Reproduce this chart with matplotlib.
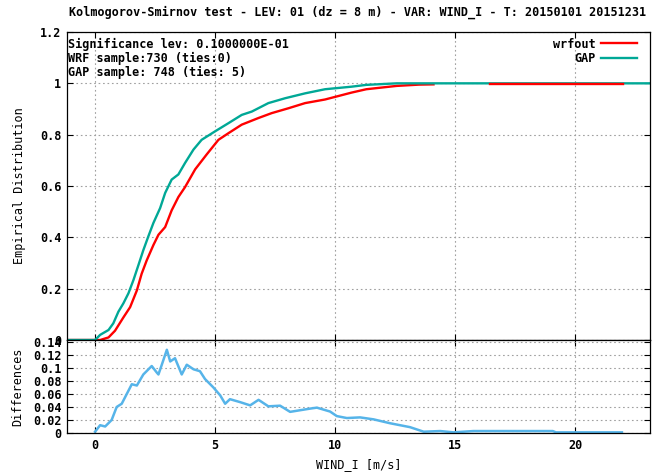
import matplotlib.pyplot as plt
import matplotlib.ticker as ticker

# ---- data ----
gap_x = [-1.2, 0.0, 0.21, 0.56, 0.76, 0.97, 1.18, 1.39, 1.6, 1.81, 2.01, 2.22, 2.43,
         2.71, 2.92, 3.19, 3.47, 3.75, 4.10, 4.44, 5.0, 5.56, 6.11, 6.53, 7.22, 7.92,
         8.75, 9.58, 10.69, 11.3, 12.57, 16.4, 23.1]
gap_y = [0.0, 0.0, 0.02, 0.039, 0.065, 0.11, 0.143, 0.182, 0.234, 0.293, 0.35, 0.404,
         0.456, 0.514, 0.573, 0.625, 0.645, 0.69, 0.742, 0.78, 0.813, 0.845, 0.877,
         0.89, 0.923, 0.942, 0.961, 0.977, 0.987, 0.994, 1.0, 1.0, 1.0]

wrf_x = [-1.2, 0.21, 0.56, 0.83, 1.18, 1.46, 1.74, 1.94, 2.15, 2.43, 2.64, 2.92, 3.19,
         3.47, 3.75, 4.17, 4.65, 5.14, 5.56, 6.11, 6.81, 7.36, 8.06, 8.75, 9.58, 10.69,
         11.3, 12.57, 13.5, 14.1]
wrf_y = [0.0, 0.0, 0.01, 0.036, 0.088, 0.128, 0.193, 0.258, 0.31, 0.37, 0.41, 0.44,
         0.505, 0.557, 0.596, 0.665, 0.723, 0.78, 0.806, 0.839, 0.865, 0.884, 0.903,
         0.923, 0.937, 0.964, 0.977, 0.99, 0.995, 0.996]
wrf_tail_x = [16.46, 22.0]
wrf_tail_y = [0.996, 0.996]

diff_x = [0.0, 0.21, 0.42, 0.69, 0.9, 1.11, 1.25, 1.39, 1.53, 1.74, 2.01, 2.36, 2.57,
          2.64, 2.78, 2.99, 3.13, 3.33, 3.61, 3.82, 4.1, 4.37, 4.58, 4.93, 5.21, 5.42,
          5.62, 6.04, 6.46, 6.81, 7.22, 7.71, 8.125, 8.54, 8.96, 9.24, 9.79, 10.07,
          10.49, 11.04, 11.6, 12.29, 13.12, 13.69, 14.38, 14.93, 15.76, 19.07, 19.2,
          21.95]
diff_y = [0.002, 0.012, 0.010, 0.020, 0.040, 0.045, 0.055, 0.065, 0.075, 0.073, 0.09,
          0.103, 0.093, 0.090, 0.105, 0.128, 0.110, 0.115, 0.09, 0.105, 0.098, 0.095,
          0.083, 0.07, 0.058, 0.045, 0.052, 0.0475, 0.0425, 0.051, 0.041, 0.042,
          0.0325, 0.035, 0.0375, 0.039, 0.033, 0.026, 0.023, 0.024, 0.021, 0.015,
          0.009, 0.002, 0.003, 0.001, 0.003, 0.003, 0.001, 0.001]

x_ticks = [0, 5, 10, 15, 20]
top_yticks = [0, 0.2, 0.4, 0.6, 0.8, 1.0, 1.2]
top_ylabels = ["0", "0.2", "0.4", "0.6", "0.8", "1", "1.2"]
bot_yticks = [0, 0.02, 0.04, 0.06, 0.08, 0.10, 0.12, 0.14]
bot_ylabels = ["0", "0.02", "0.04", "0.06", "0.08", "0.1", "0.12", "0.14"]

info_lines = ["Significance lev: 0.1000000E-01",
              "WRF sample:730 (ties:0)",
              "GAP sample: 748 (ties: 5)"]

RED = "#ff0000"
TEAL = "#00a896"
BLUE = "#56b4e9"
FONT = dict(family="DejaVu Sans Mono", fontweight="bold", fontsize=8.5)

plt.rcParams["font.family"] = "DejaVu Sans Mono"
plt.rcParams["font.weight"] = "bold"
plt.rcParams["font.size"] = 8.5

fig = plt.figure(figsize=(6.53, 4.72), dpi=100)
ax_top = fig.add_axes([67 / 653, 1 - 340 / 472, 583 / 653, 308 / 472])
ax_bot = fig.add_axes([67 / 653, 1 - 433 / 472, 583 / 653, 93 / 472])

xlim = (-1.17, 23.12)

for ax in (ax_top, ax_bot):
    ax.set_xlim(*xlim)
    ax.xaxis.set_major_locator(ticker.FixedLocator(x_ticks))
    ax.tick_params(direction="in", top=True, right=True, length=4, width=0.8,
                   labelsize=8.5, pad=4)
    ax.grid(True, color="#a0a0a0", linestyle=(0, (1.5, 2.5)), linewidth=0.8)
    for sp in ax.spines.values():
        sp.set_linewidth(0.9)

# -- top: empirical distributions --
ax_top.plot(wrf_x, wrf_y, color=RED, linewidth=1.7, label="wrfout")
ax_top.plot(gap_x, gap_y, color=TEAL, linewidth=1.7, label="GAP")
ax_top.plot(wrf_tail_x, wrf_tail_y, color=RED, linewidth=1.7, zorder=3)
ax_top.set_ylim(0, 1.2)
ax_top.set_yticks(top_yticks)
ax_top.set_yticklabels(top_ylabels)
ax_top.set_xticklabels([])
ax_top.set_ylabel("Empirical Distribution", labelpad=10)

for i, line in enumerate(info_lines):
    ax_top.text(0.002, 0.958 - i * 0.045, line, transform=ax_top.transAxes,
                ha="left", va="center", **FONT)

leg = ax_top.legend(loc="upper right", bbox_to_anchor=(0.978, 0.982), frameon=False,
                    markerfirst=False, handlelength=3.1, handletextpad=0.45,
                    labelspacing=0.1, borderaxespad=0, borderpad=0,
                    prop=dict(family="DejaVu Sans Mono", weight="bold", size=8.5))
for t in leg.get_texts():
    t.set_ha("right")

# -- bottom: differences --
ax_bot.plot(diff_x, diff_y, color=BLUE, linewidth=1.8)
ax_bot.set_ylim(0, 0.143)
ax_bot.set_yticks(bot_yticks)
ax_bot.set_yticklabels(bot_ylabels)
ax_bot.set_xticklabels([str(v) for v in x_ticks])
ax_bot.set_ylabel("Differences", labelpad=6)
ax_bot.set_xlabel("WIND_I [m/s]", labelpad=5)

fig.text(358 / 653, 1 - 12 / 472,
         "Kolmogorov-Smirnov test - LEV: 01 (dz = 8 m) - VAR: WIND_I - T: 20150101 20151231",
         ha="center", va="center", **FONT)

fig.savefig("out.png", dpi=100)
